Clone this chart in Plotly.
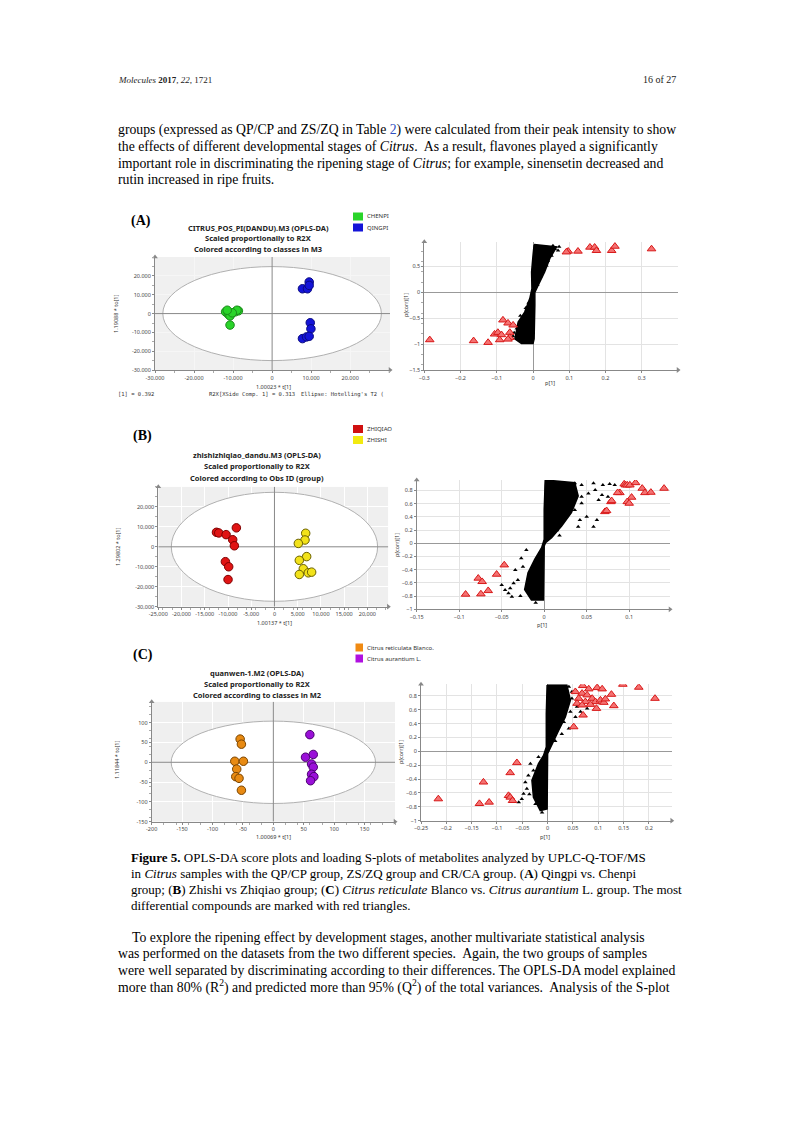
import plotly.graph_objects as go

W, H = 794, 1123

# ---------------- DATA ----------------
# Panel A score plot (OPLS-DA)
A_chenpi_x = [-11920, -11220, -10780, -9490, -8630, -9000, -10200, -11500, -10780]
A_chenpi_y = [920, -330, -1240, 920, 1460, 1800, 400, 1800, -6100]
A_qingpi_x = [9500, 7770, 9060, 9500, 9770, 9940, 7770, 8810, 9500]
A_qingpi_y = [16800, 13200, 13200, 15000, -4860, -8100, -13300, -12400, -12100]
A_ellipse = [28000, 25000]
A_xticks = [-30000, -20000, -10000, 0, 10000, 20000]
A_xtext = ["-30.000", "-20.000", "-10.000", "0", "10.000", "20.000"]
A_yticks = [-30000, -20000, -10000, 0, 10000, 20000]
A_ytext = ["-30.000", "-20.000", "-10.000", "0", "10.000", "20.000"]

# Panel A S-plot
SA_xticks = [-0.3, -0.2, -0.1, 0, 0.1, 0.2, 0.3]
SA_yticks = [-1.5, -1, -0.5, 0, 0.5]
SA_red_x = [0.097, 0.124, 0.157, 0.170, 0.175, 0.217, 0.226, 0.327, 0.092,
            -0.285, -0.164, -0.124, -0.083, -0.069, -0.055, -0.106, -0.097, -0.087,
            -0.092, -0.064, -0.064, -0.069]
SA_red_y = [0.795, 0.795, 0.872, 0.872, 0.808, 0.808, 0.890, 0.840, 0.780,
            -0.917, -0.936, -0.969, -0.535, -0.594, -0.633, -0.807, -0.775, -0.820,
            -0.917, -0.775, -0.872, -0.905]
SA_blob_x = [0.003, 0.065, 0.046, 0.032, 0.014, 0.005, 0.005, 0.003, 0.0, -0.032,
             -0.05, -0.041, -0.023, -0.009, -0.003, -0.004, 0.0, 0.003]
SA_blob_y = [0.924, 0.88, 0.653, 0.395, 0.136, 0.0, -0.25, -0.897, -0.99, -0.99,
             -0.9, -0.575, -0.38, -0.12, 0.07, 0.395, 0.717, 0.924]
SA_blk_x = [0.060, 0.051, 0.037, 0.069, 0.041, 0.055, 0.030, 0.072, 0.020, 0.012,
            -0.045, -0.040, -0.030, -0.055, -0.052, -0.035, -0.020, -0.012, -0.028]
SA_blk_y = [0.84, 0.71, 0.52, 0.81, 0.61, 0.90, 0.45, 0.88, 0.30, 0.15,
            -0.70, -0.62, -0.50, -0.85, -0.78, -0.45, -0.30, -0.20, -0.93]

# Panel B score plot
B_zhiqiao_x = [-12480, -11990, -10410, -8990, -8200, -8630, -10560, -9850, -9990]
B_zhiqiao_y = [7260, 6940, 6090, 3550, 9490, 510, -7450, -10000, -16400]
B_zhishi_x = [6720, 6570, 5140, 6930, 5350, 6210, 5350, 7280, 8000]
B_zhishi_y = [6770, 3400, 1690, -4910, -6770, -11000, -13860, -13030, -12690]
B_ellipse = [22200, 27300]
B_xticks = [-25000, -20000, -15000, -10000, -5000, 0, 5000, 10000, 15000, 20000]
B_xtext = ["-25,000", "-20,000", "-15,000", "-10,000", "-5,000", "0", "5,000", "10,000", "15,000", "20,000"]
B_yticks = [-30000, -20000, -10000, 0, 10000, 20000]
B_ytext = ["-30,000", "-20,000", "-10,000", "0", "10,000", "20,000"]

# Panel B S-plot
SB_xticks = [-0.15, -0.1, -0.05, 0, 0.05, 0.1]
SB_yticks = [-1, -0.8, -0.6, -0.4, -0.2, 0, 0.2, 0.4, 0.6, 0.8]
SB_red_x = [0.0941, 0.0957, 0.0977, 0.1008, 0.1075, 0.1153, 0.1185, 0.1255, 0.141,
            0.089, 0.0864, 0.0785, 0.0793, 0.1028, 0.0977, 0.100, 0.0714, 0.0734,
            -0.0925, -0.0776, -0.073, -0.0745, -0.0659, -0.056, -0.047]
SB_red_y = [0.898, 0.883, 0.883, 0.883, 0.918, 0.833, 0.767, 0.772, 0.833,
            0.767, 0.767, 0.630, 0.645, 0.697, 0.630, 0.606, 0.479, 0.494,
            -0.773, -0.530, -0.581, -0.768, -0.718, -0.470, -0.329]
SB_blob_x = [0.0016, 0.036, 0.040, 0.032, 0.0205, 0.0087, 0.0016, 0.0, -0.001, -0.015,
             -0.023, -0.019, -0.011, -0.003, 0.0, 0.0, 0.001, 0.0016]
SB_blob_y = [0.96, 0.918, 0.717, 0.464, 0.262, 0.085, 0.01, -0.04, -0.86, -0.86,
             -0.70, -0.445, -0.24, -0.067, 0.06, 0.515, 0.87, 0.96]
SB_blk_x = [0.036, 0.044, 0.058, 0.069, 0.077, 0.083, 0.060, 0.052, 0.068, 0.064,
            0.044, 0.036, 0.042, 0.050, 0.058, 0.040, 0.062, 0.028, 0.024, 0.032,
            0.075, 0.044, 0.015, 0.018,
            -0.038, -0.036, -0.050, -0.046, -0.042, -0.034, -0.027, -0.021, -0.025,
            -0.031, -0.040, -0.028, -0.010]
SB_blk_y = [0.909, 0.883, 0.909, 0.883, 0.898, 0.883, 0.808, 0.757, 0.732, 0.656,
            0.606, 0.505, 0.353, 0.403, 0.252, 0.252, 0.353, 0.555, 0.454, 0.656,
            0.706, 0.706, 0.20, 0.12,
            -0.808, -0.606, -0.632, -0.707, -0.758, -0.404, -0.227, -0.100, -0.354,
            -0.556, -0.682, -0.80, -0.90]

# Panel C score plot
C_reticulata_x = [-54.6, -52.5, -63.4, -49.2, -60.2, -61.8, -56.4, -52.5]
C_reticulata_y = [58.6, 45.7, 2.6, 2.6, -17.2, -36.2, -40.5, -70.6]
C_aurantium_x = [60.0, 52.9, 65.6, 62.8, 65.6, 62.8, 66.6, 61.2]
C_aurantium_y = [69.8, 12.9, 19.8, -4.3, -12.1, -30.2, -36.2, -46.5]
C_ellipse = [168, 104]
C_xticks = [-200, -150, -100, -50, 0, 50, 100, 150]
C_yticks = [-150, -100, -50, 0, 50, 100]

# Panel C S-plot
SC_xticks = [-0.25, -0.2, -0.15, -0.1, -0.05, 0, 0.05, 0.1, 0.15, 0.2]
SC_yticks = [-1, -0.8, -0.6, -0.4, -0.2, 0, 0.2, 0.4, 0.6, 0.8]
SC_red_x = [0.0693, 0.0812, 0.0977, 0.1077, 0.126, 0.1485, 0.180, 0.212, 0.1307,
            0.0964, 0.070, 0.0515, 0.0548, 0.068, 0.078, 0.088, 0.0944, 0.1043,
            0.111, 0.0746, 0.0845, 0.0614, 0.0581, 0.068, 0.114,
            -0.2158, -0.1346, -0.1155, -0.1267, -0.0739, -0.0607, -0.0772, -0.0739, -0.0693]
SC_red_y = [0.947, 0.899, 0.918, 0.899, 0.821, 0.966, 0.923, 0.763, 0.657,
            0.618, 0.522, 0.353, 0.860, 0.836, 0.812, 0.763, 0.715, 0.739,
            0.705, 0.715, 0.676, 0.763, 0.691, 0.667, 0.754,
            -0.686, -0.754, -0.734, -0.444, -0.309, -0.164, -0.638, -0.662, -0.710]
SC_blob_x = [-0.001, 0.038, 0.045, 0.035, 0.022, 0.0087, 0.002, 0.0, -0.001, -0.0145,
             -0.028, -0.031, -0.018, -0.008, -0.0026, -0.0026, -0.001]
SC_blob_y = [0.957, 0.957, 0.739, 0.497, 0.304, 0.11, 0.014, -0.034, -0.83, -0.855,
             -0.662, -0.42, -0.178, -0.058, 0.062, 0.546, 0.957]
SC_blk_x = [0.042, 0.048, 0.035, 0.045, 0.055, 0.032, 0.042, 0.065, 0.058, 0.078, 0.048,
            0.028, 0.015,
            -0.018, -0.034, -0.028, -0.038, -0.041, -0.051, -0.0475, -0.057, -0.011, -0.044,
            -0.024, -0.036]
SC_blk_y = [0.932, 0.860, 0.715, 0.570, 0.497, 0.425, 0.329, 0.570, 0.642, 0.618, 0.763,
            0.25, 0.15,
            -0.082, -0.178, -0.275, -0.348, -0.541, -0.686, -0.613, -0.734, -0.880, -0.445,
            -0.76, -0.62]

# ---------------- TEXT ----------------
header_left = "<i>Molecules</i> <b>2017</b>, <i>22</i>, 1721"
header_right = "16 of 27"
body_top = [
    "groups (expressed as QP/CP and ZS/ZQ in Table <span style='color:#3050c0'>2</span>) were calculated from their peak intensity to show",
    "the effects of different developmental stages of <i>Citrus</i>.  As a result, flavones played a significantly",
    "important role in discriminating the ripening stage of <i>Citrus</i>; for example, sinensetin decreased and",
    "rutin increased in ripe fruits.",
]
caption = [
    "<b>Figure 5.</b> OPLS-DA score plots and loading S-plots of metabolites analyzed by UPLC-Q-TOF/MS",
    "in <i>Citrus</i> samples with the QP/CP group, ZS/ZQ group and CR/CA group. (<b>A</b>) Qingpi vs. Chenpi",
    "group; (<b>B</b>) Zhishi vs Zhiqiao group; (<b>C</b>) <i>Citrus reticulate</i> Blanco vs. <i>Citrus aurantium</i> L. group. The most",
    "differential compounds are marked with red triangles.",
]
body_bottom = [
    "To explore the ripening effect by development stages, another multivariate statistical analysis",
    "was performed on the datasets from the two different species.  Again, the two groups of samples",
    "were well separated by discriminating according to their differences. The OPLS-DA model explained",
    "more than 80% (R<sup>2</sup>) and predicted more than 95% (Q<sup>2</sup>) of the total variances.  Analysis of the S-plot",
]

# ---------------- LAYOUT HELPERS ----------------
def dx(l, r):
    return [l / W, r / W]

def dy(t, b):
    return [1 - b / H, 1 - t / H]

def px(x):
    return x / W

def py(y):
    return 1 - y / H

fig = go.Figure()
annotations = []
shapes = []

SERIF = "Liberation Serif"
SANS = "Noto Sans"
TICKF = dict(family=SANS, size=5.5, color="#444")
AXC = "#888"

def score_axes(n, xdom, ydom, xr, yr, xt, xtt, yt, ytt):
    xa = dict(domain=xdom, range=xr, anchor=f"y{n}", tickvals=xt, ticktext=xtt,
              showgrid=True, gridcolor="white", zeroline=False, showline=True,
              linecolor=AXC, ticks="outside", ticklen=2, tickcolor=AXC,
              tickfont=TICKF, minor=dict(ticks="outside", ticklen=2, tickcolor="#aaa", nticks=5),
              fixedrange=True, automargin=False)
    ya = dict(domain=ydom, range=yr, anchor=f"x{n}", tickvals=yt, ticktext=ytt,
              showgrid=True, gridcolor="white", zeroline=False, showline=True,
              linecolor=AXC, ticks="outside", ticklen=2, tickcolor=AXC,
              tickfont=TICKF, minor=dict(ticks="outside", ticklen=2, tickcolor="#aaa", nticks=5),
              fixedrange=True, automargin=False)
    return xa, ya

def s_axes(n, xdom, ydom, xr, yr, xt, yt):
    xa = dict(domain=xdom, range=xr, anchor=f"y{n}", tickvals=xt,
              showgrid=True, gridcolor="#e3e3e3", zeroline=True, zerolinecolor="#999",
              zerolinewidth=1, showline=True, linecolor=AXC, ticks="outside",
              ticklen=2, tickcolor=AXC, tickfont=TICKF, fixedrange=True, automargin=False)
    ya = dict(domain=ydom, range=yr, anchor=f"x{n}", tickvals=yt,
              showgrid=True, gridcolor="#e3e3e3", zeroline=True, zerolinecolor="#999",
              zerolinewidth=1, showline=True, linecolor=AXC, ticks="outside",
              ticklen=2, tickcolor=AXC, tickfont=TICKF, fixedrange=True, automargin=False,
              minor=dict(ticks="outside", ticklen=2, tickcolor="#aaa", nticks=3))
    return xa, ya

layout_axes = {}

def add_axes(n, xa, ya):
    kx = "xaxis" if n == 1 else f"xaxis{n}"
    ky = "yaxis" if n == 1 else f"yaxis{n}"
    layout_axes[kx] = xa
    layout_axes[ky] = ya

def ref(n):
    return ("x" if n == 1 else f"x{n}"), ("y" if n == 1 else f"y{n}")

def axis_arrows(n, xrng, yrng):
    xr, yr = ref(n)
    fig.add_trace(go.Scatter(x=[xrng[1]], y=[yrng[0]], mode="markers", xaxis=xr, yaxis=yr,
                             marker=dict(symbol="triangle-right", size=5, color=AXC),
                             cliponaxis=False, showlegend=False, hoverinfo="skip"))
    fig.add_trace(go.Scatter(x=[xrng[0]], y=[yrng[1]], mode="markers", xaxis=xr, yaxis=yr,
                             marker=dict(symbol="triangle-up", size=5, color=AXC),
                             cliponaxis=False, showlegend=False, hoverinfo="skip"))

def score_panel(n, ell, groups, xrng, yrng, bg="#efefef"):
    xr, yr = ref(n)
    a, b = ell
    shapes.append(dict(type="rect", xref=xr, yref=yr, x0=xrng[0], x1=xrng[1],
                       y0=yrng[0], y1=yrng[1], fillcolor=bg, line=dict(width=0), layer="below"))
    shapes.append(dict(type="circle", xref=xr, yref=yr, x0=-a, x1=a, y0=-b, y1=b,
                       fillcolor="white", line=dict(color="#b0b0b0", width=1), layer="between"))
    shapes.append(dict(type="line", xref=xr, yref=yr, x0=0, x1=0, y0=yrng[0], y1=yrng[1],
                       line=dict(color="#888", width=1), layer="between"))
    shapes.append(dict(type="line", xref=xr, yref=yr, x0=xrng[0], x1=xrng[1], y0=0, y1=0,
                       line=dict(color="#888", width=1), layer="between"))
    for gx, gy, col, edge in groups:
        fig.add_trace(go.Scatter(x=gx, y=gy, mode="markers", xaxis=xr, yaxis=yr,
                                 marker=dict(size=8.5, color=col, line=dict(color=edge, width=1)),
                                 showlegend=False, hoverinfo="skip"))
    axis_arrows(n, xrng, yrng)

def s_panel(n, blob_x, blob_y, blk_x, blk_y, red_x, red_y, xrng, yrng):
    xr, yr = ref(n)
    fig.add_trace(go.Scatter(x=blob_x, y=blob_y, mode="lines", fill="toself",
                             fillcolor="black", line=dict(color="black", width=1.5),
                             xaxis=xr, yaxis=yr, showlegend=False, hoverinfo="skip"))
    fig.add_trace(go.Scatter(x=blk_x, y=blk_y, mode="markers", xaxis=xr, yaxis=yr,
                             marker=dict(symbol="triangle-up", size=4, color="black"),
                             showlegend=False, hoverinfo="skip"))
    fig.add_trace(go.Scatter(x=red_x, y=red_y, mode="markers", xaxis=xr, yaxis=yr,
                             marker=dict(symbol="triangle-up", size=7.5, color="#f47272",
                                         line=dict(color="#d81818", width=1)),
                             showlegend=False, hoverinfo="skip"))
    axis_arrows(n, xrng, yrng)

# ---- Panel A ----
A_xr, A_yr = [-30000, 30200], [-30000, 30100]
xa, ya = score_axes(1, dx(155, 390), dy(257, 370), A_xr, A_yr,
                    A_xticks, A_xtext, A_yticks, A_ytext)
xa["gridcolor"] = "#f6f6f6"; ya["gridcolor"] = "#f6f6f6"
add_axes(1, xa, ya)
score_panel(1, A_ellipse, [(A_chenpi_x, A_chenpi_y, "#2ad42a", "#1a8a1a"),
                           (A_qingpi_x, A_qingpi_y, "#1414d8", "#0a0a80")], A_xr, A_yr, "#f0f0f0")
SA_xr, SA_yr = [-0.3, 0.40], [-1.5, 0.98]
xa, ya = s_axes(2, dx(424.3, 678), dy(241.7, 370), SA_xr, SA_yr, SA_xticks, SA_yticks)
add_axes(2, xa, ya)
s_panel(2, SA_blob_x, SA_blob_y, SA_blk_x, SA_blk_y, SA_red_x, SA_red_y, SA_xr, SA_yr)

# ---- Panel B ----
B_xr, B_yr = [-25000, 24500], [-30000, 30100]
xa, ya = score_axes(3, dx(158.3, 388.3), dy(486.7, 606.7), B_xr, B_yr,
                    B_xticks, B_xtext, B_yticks, B_ytext)
add_axes(3, xa, ya)
score_panel(3, B_ellipse, [(B_zhiqiao_x, B_zhiqiao_y, "#e01414", "#800000"),
                           (B_zhishi_x, B_zhishi_y, "#f2e21a", "#6a6000")], B_xr, B_yr)
SB_xr, SB_yr = [-0.15, 0.148], [-1, 0.96]
xa, ya = s_axes(4, dx(416.7, 670), dy(480, 609.3), SB_xr, SB_yr, SB_xticks, SB_yticks)
add_axes(4, xa, ya)
s_panel(4, SB_blob_x, SB_blob_y, SB_blk_x, SB_blk_y, SB_red_x, SB_red_y, SB_xr, SB_yr)

# ---- Panel C ----
C_xr, C_yr = [-200, 200], [-150, 153]
xa, ya = score_axes(5, dx(151.7, 395), dy(701.7, 821.7), C_xr, C_yr,
                    C_xticks, [str(v) for v in C_xticks], C_yticks, [str(v) for v in C_yticks])
add_axes(5, xa, ya)
score_panel(5, C_ellipse, [(C_reticulata_x, C_reticulata_y, "#e88a12", "#7a4400"),
                           (C_aurantium_x, C_aurantium_y, "#9a10d8", "#4a0070")], C_xr, C_yr)
SC_xr, SC_yr = [-0.25, 0.245], [-1, 0.967]
xa, ya = s_axes(6, dx(421, 671.7), dy(684.3, 820.7), SC_xr, SC_yr, SC_xticks, SC_yticks)
add_axes(6, xa, ya)
s_panel(6, SC_blob_x, SC_blob_y, SC_blk_x, SC_blk_y, SC_red_x, SC_red_y, SC_xr, SC_yr)

# ---- Axis titles and small texts ----
def txt(x, y, s, size=6, family=SANS, color="#333", xanchor="center", angle=0, yanchor="middle"):
    annotations.append(dict(x=px(x), y=py(y), xref="paper", yref="paper", text=s,
                            showarrow=False, font=dict(size=size, family=family, color=color),
                            xanchor=xanchor, yanchor=yanchor, textangle=angle, borderpad=0))

# score plot axis titles
txt(273, 386.5, "1.00023 * t[1]", 5.5)
txt(116, 314, "1.19088 * to[1]", 5.5, angle=-90)
txt(274, 623, "1.00137 * t[1]", 5.5)
txt(118, 546, "1.29802 * to[1]", 5.5, angle=-90)
txt(273, 837, "1.00069 * t[1]", 5.5)
txt(117, 760, "1.11844 * to[1]", 5.5, angle=-90)
# S-plot axis titles
txt(550, 383, "p[1]", 5.5)
txt(406, 305, "p(corr)[1]", 5.5, angle=-90)
txt(542, 624.5, "p[1]", 5.5)
txt(397, 545, "p(corr)[1]", 5.5, angle=-90)
txt(545, 836.5, "p[1]", 5.5)
txt(401, 752, "p(corr)[1]", 5.5, angle=-90)
# stats line under A
txt(117, 394, "[1] = 0.392", 5.5, family="DejaVu Sans Mono", xanchor="left")
txt(208, 394, "R2X[XSide Comp. 1] = 0.313", 5.5, family="DejaVu Sans Mono", xanchor="left")
txt(300, 394, "Ellipse: Hotelling's T2 (", 5.5, family="DejaVu Sans Mono", xanchor="left")

# Panel labels
txt(141, 221, "<b>(A)</b>", 14, family=SERIF, color="black")
txt(142, 436, "<b>(B)</b>", 14, family=SERIF, color="black")
txt(143, 655, "<b>(C)</b>", 14, family=SERIF, color="black")

# Chart titles
titles = [
    (258, [227.5, 238.3, 248.5], ["CITRUS_POS_PI(DANDU).M3 (OPLS-DA)", "Scaled proportionally to R2X", "Colored according to classes in M3"]),
    (257, [455, 466.5, 477.5], ["zhishizhiqiao_dandu.M3 (OPLS-DA)", "Scaled proportionally to R2X", "Colored according to Obs ID (group)"]),
    (257, [673.3, 683.5, 694.5], ["quanwen-1.M2 (OPLS-DA)", "Scaled proportionally to R2X", "Colored according to classes in M2"]),
]
for cx, ys, lines in titles:
    for yy, s in zip(ys, lines):
        txt(cx, yy, f"<b>{s}</b>", 7.5, color="#222")

# Legends
legends = [
    ([212.5, 223.5], ["#2ad42a", "#1414d8"], ["CHENPI", "QINGPI"], 10),
    ([425, 436], ["#d01010", "#f2ea10"], ["ZHIQIAO", "ZHISHI"], 10),
    ([643.5, 654.5], ["#f08a12", "#b010e0"], ["Citrus reticulata Blanco.", "Citrus aurantium L."], 7.5),
]
for ys, cols, labs, wbox in legends:
    for yy, c, lab in zip(ys, cols, labs):
        shapes.append(dict(type="rect", xref="paper", yref="paper",
                           x0=px(363 - wbox), x1=px(363), y0=py(yy + 8), y1=py(yy),
                           fillcolor=c, line=dict(width=0)))
        txt(366, yy + 4, lab, 6, color="#333", xanchor="left")

# Page texts
txt(117, 80, header_left, 9.0, family=SERIF, color="#222", xanchor="left")
txt(677, 80, header_right, 10.0, family=SERIF, color="#222", xanchor="right")
for i, s in enumerate(body_top):
    txt(117, 130 + i * 16.6, s, 13.75, family=SERIF, color="black", xanchor="left")
for i, s in enumerate(caption):
    txt(130, 857 + i * 16, s, 13.0, family=SERIF, color="black", xanchor="left")
for i, s in enumerate(body_bottom):
    txt(131 if i == 0 else 117, 937 + i * 16.5, s, 13.75, family=SERIF, color="black", xanchor="left")

fig.update_layout(width=W, height=H, margin=dict(l=0, r=0, t=0, b=0, pad=0, autoexpand=False),
                  paper_bgcolor="white", plot_bgcolor="white", template="none",
                  annotations=annotations, shapes=shapes, showlegend=False,
                  **layout_axes)

fig.write_html("out.html", config={"displayModeBar": False},
               post_script="document.body.style.margin='0px';")
